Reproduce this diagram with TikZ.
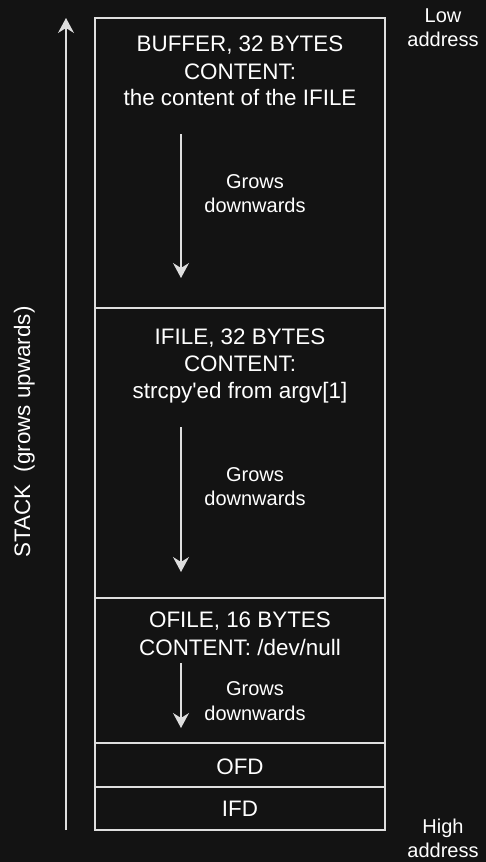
\documentclass[tikz,border=0pt]{standalone}
\usepackage{fontspec}
\setmainfont{Liberation Sans}
\usetikzlibrary{arrows.meta}

\definecolor{bgcol}{RGB}{19,19,19}
\definecolor{linecol}{RGB}{222,222,222}

\tikzset{
	cell/.style={draw=linecol, line width=1.3pt},
	growarrow/.style={draw=linecol, line width=1.3pt, -{Stealth[length=15pt,width=16pt,inset=5pt]}},
	big/.style={text=white, anchor=base, font=\fontsize{22.4}{26}\selectfont},
	small/.style={text=white, anchor=base, font=\fontsize{20}{24}\selectfont}
}

\begin{document}
\begin{tikzpicture}[x=1pt,y=-1pt]
	%background
	\fill[bgcol] (0,0) rectangle (486,862);
	\useasboundingbox (0,0) rectangle (486,862);
	
	%boxes
	\draw[cell] (95,18) rectangle (385,308);
	\draw[cell] (95,308) rectangle (385,598);
	\draw[cell] (95,598) rectangle (385,743);
	\draw[cell] (95,743) rectangle (385,787);
	\draw[cell] (95,787) rectangle (385,830);
	
	%stack arrow
	\coordinate (stackbot) at (66,830);
	\coordinate (stacktop) at (66,18);
	\draw[growarrow] (stackbot) -- (stacktop);
	\node[big, rotate=90] (stacklbl) at (30,432) {STACK\ \ (grows upwards)};
	
	%grow arrows
	\coordinate (bufs) at (181,134);
	\coordinate (bufe) at (181,278);
	\coordinate (ifis) at (181,427);
	\coordinate (ifie) at (181,572);
	\coordinate (ofis) at (181,663);
	\coordinate (ofie) at (181,728);
	\draw[growarrow] (bufs) -- (bufe);
	\draw[growarrow] (ifis) -- (ifie);
	\draw[growarrow] (ofis) -- (ofie);
	
	%box labels
	\node[big] (buf1) at (240,51)  {BUFFER, 32 BYTES};
	\node[big] (buf2) at (240,79)  {CONTENT:};
	\node[big] (buf3) at (240,105) {the content of the IFILE};
	%
	\node[big] (ifi1) at (240,344) {IFILE, 32 BYTES};
	\node[big] (ifi2) at (240,371) {CONTENT:};
	\node[big] (ifi3) at (240,398) {strcpy\textquotesingle ed from argv[1]};
	%
	\node[big] (ofi1) at (240,627) {OFILE, 16 BYTES};
	\node[big] (ofi2) at (240,655) {CONTENT: /dev/null};
	%
	\node[big] (ofd) at (240,774) {OFD};
	\node[big] (ifd) at (240,816) {IFD};
	
	%grow labels
	\node[small] (bufg1) at (255,188) {Grows};
	\node[small] (bufg2) at (255,212) {downwards};
	\node[small] (ifig1) at (255,481) {Grows};
	\node[small] (ifig2) at (255,505) {downwards};
	\node[small] (ofig1) at (255,695) {Grows};
	\node[small] (ofig2) at (255,720) {downwards};
	
	%address labels
	\node[small] (low1) at (443,22) {Low};
	\node[small] (low2) at (443,46) {address};
	\node[small] (high1) at (443,833) {High};
	\node[small] (high2) at (443,857) {address};
\end{tikzpicture}
\end{document}
